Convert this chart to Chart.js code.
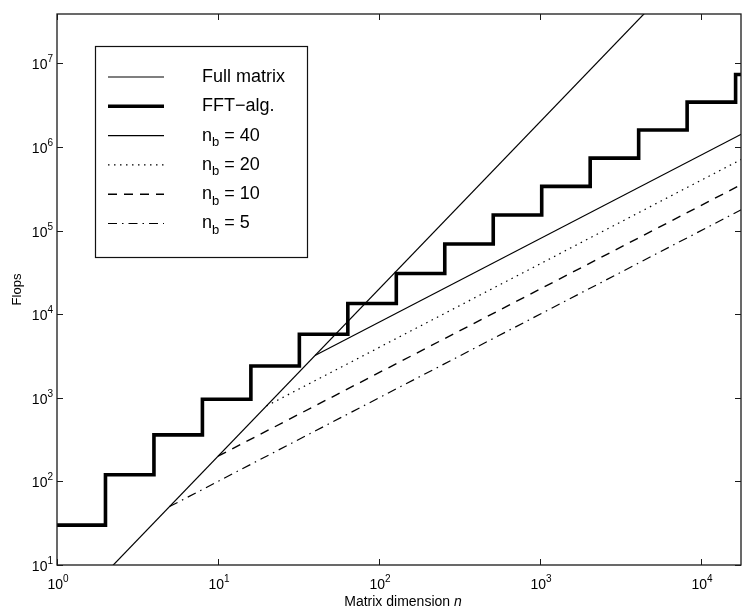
<!DOCTYPE html>
<html lang="en">
<head>
<meta charset="UTF-8">
<title>Flops versus matrix dimension</title>
<script src="https://cdn.jsdelivr.net/npm/chart.js"></script>
<style>
    html, body { margin: 0; padding: 0; background: #fff; }
    canvas { display: block; }
</style>
</head>
<body>
<canvas id="flopsChart" width="742" height="607"></canvas>
<script>
// values (log-log axes)
const xTicks = [1, 10, 100, 1000, 10000];
const yTicks = [10, 100, 1000, 1e4, 1e5, 1e6, 1e7];
const xMin = 1, xMax = 17700;
const yMin = 10, yMax = 3.9e7;

const fullN = [1, 20000];
const fullFlops = [2, 8e8];

const fftN = [1, 2, 4, 8, 16, 32, 64, 128, 256, 512, 1024, 2048, 4096, 8192, 16384, 20000];
const fftFlops = [30, 120, 360, 960, 2400, 5760, 13440, 30700, 69100, 153600, 338000, 737000, 1600000, 3440000, 7370000, 7370000];

const nb40N = [40, 20000];
const nb40Flops = [3200, 1.6e6];
const nb20N = [20, 20000];
const nb20Flops = [800, 8e5];
const nb10N = [10, 20000];
const nb10Flops = [200, 4e5];
const nb5N = [5, 20000];
const nb5Flops = [50, 2e5];

const FONT = '"Liberation Sans", Arial, Helvetica, sans-serif';

function pts(xs, ys) {
    return xs.map((v, i) => ({ x: v, y: ys[i] }));
}

// text like "n_b = 40" -> n with subscript b
function drawSubText(ctx, text, x, y, size) {
    const m = text.match(/^(.*?)_(\w)(.*)$/);
    ctx.font = size + 'px ' + FONT;
    if (!m) { ctx.fillText(text, x, y); return; }
    ctx.fillText(m[1], x, y);
    x += ctx.measureText(m[1]).width;
    ctx.font = Math.round(size * 0.72) + 'px ' + FONT;
    ctx.fillText(m[2], x, y + size * 0.38);
    x += ctx.measureText(m[2]).width;
    ctx.font = size + 'px ' + FONT;
    ctx.fillText(m[3], x, y);
}

function drawPow(ctx, v, x, y, align) {
    const e = String(Math.round(Math.log10(v)));
    ctx.font = '14px ' + FONT;
    const wb = ctx.measureText('10').width;
    ctx.font = '10px ' + FONT;
    const we = ctx.measureText(e).width;
    let sx = align === 'right' ? x - wb - we : x - (wb + we) / 2;
    ctx.textAlign = 'left';
    ctx.font = '14px ' + FONT;
    ctx.fillText('10', sx, y);
    ctx.font = '10px ' + FONT;
    ctx.fillText(e, sx + wb, y - 7);
}

const frame = {
    id: 'frame',
    afterDraw(chart) {
        const { ctx, chartArea: a, scales: { x, y } } = chart;
        ctx.save();
        ctx.fillStyle = '#000';
        ctx.strokeStyle = '#1a1a1a';

        // box + inward ticks
        ctx.lineWidth = 1.3;
        ctx.strokeRect(a.left, a.top, a.right - a.left, a.bottom - a.top);
        const tl = 6;
        ctx.beginPath();
        xTicks.forEach(v => {
            const px = Math.round(x.getPixelForValue(v)) + 0.5;
            ctx.moveTo(px, a.bottom); ctx.lineTo(px, a.bottom - tl);
            ctx.moveTo(px, a.top); ctx.lineTo(px, a.top + tl);
        });
        yTicks.forEach(v => {
            const py = Math.round(y.getPixelForValue(v)) + 0.5;
            ctx.moveTo(a.left, py); ctx.lineTo(a.left + tl, py);
            ctx.moveTo(a.right, py); ctx.lineTo(a.right - tl, py);
        });
        ctx.lineWidth = 1;
        ctx.stroke();

        // tick labels
        ctx.textBaseline = 'alphabetic';
        xTicks.forEach(v => drawPow(ctx, v, x.getPixelForValue(v) + 1, a.bottom + 24, 'center'));
        yTicks.forEach(v => drawPow(ctx, v, a.left - 4, y.getPixelForValue(v) + 6, 'right'));

        // axis titles
        ctx.font = '13px ' + FONT;
        ctx.save();
        ctx.translate(17, (a.top + a.bottom) / 2);
        ctx.rotate(-Math.PI / 2);
        ctx.textAlign = 'center';
        ctx.textBaseline = 'middle';
        ctx.fillText('Flops', 0, 0);
        ctx.restore();

        ctx.textBaseline = 'alphabetic';
        ctx.textAlign = 'left';
        ctx.font = '14px ' + FONT;
        const t1 = 'Matrix dimension ';
        const w1 = ctx.measureText(t1).width;
        ctx.font = 'italic 14px ' + FONT;
        const w2 = ctx.measureText('n').width;
        const tx = 403 - (w1 + w2) / 2;
        ctx.font = '14px ' + FONT;
        ctx.fillText(t1, tx, 606);
        ctx.font = 'italic 14px ' + FONT;
        ctx.fillText('n', tx + w1, 606);

        // legend box
        const lx = 95, ly = 46, lw = 212, lh = 211;
        ctx.fillStyle = '#fff';
        ctx.fillRect(lx, ly, lw, lh);
        ctx.lineWidth = 1.2;
        ctx.strokeStyle = '#111';
        ctx.strokeRect(lx + 0.5, ly + 0.5, lw, lh);
        ctx.fillStyle = '#000';
        ctx.textBaseline = 'middle';
        chart.data.datasets.forEach((ds, i) => {
            const ry = 77 + i * 29.3;
            ctx.beginPath();
            ctx.setLineDash(ds.borderDash || []);
            ctx.lineWidth = ds.borderWidth;
            ctx.strokeStyle = ds.borderColor;
            ctx.moveTo(108, ry); ctx.lineTo(164, ry);
            ctx.stroke();
            ctx.setLineDash([]);
            drawSubText(ctx, ds.label, 202, ry, 18);
        });
        ctx.restore();
    }
};

const ctx = document.getElementById('flopsChart').getContext('2d');
new Chart(ctx, {
    type: 'line',
    data: {
        datasets: [
            { label: 'Full matrix', data: pts(fullN, fullFlops), borderColor: '#000', borderWidth: 1.2 },
            { label: 'FFT\u2212alg.', data: pts(fftN, fftFlops), borderColor: '#000', borderWidth: 3.6, stepped: true },
            { label: 'n_b = 40', data: pts(nb40N, nb40Flops), borderColor: '#000', borderWidth: 1.2 },
            { label: 'n_b = 20', data: pts(nb20N, nb20Flops), borderColor: '#000', borderWidth: 1.2, borderDash: [1.5, 4.5] },
            { label: 'n_b = 10', data: pts(nb10N, nb10Flops), borderColor: '#000', borderWidth: 1.4, borderDash: [9, 7] },
            { label: 'n_b = 5', data: pts(nb5N, nb5Flops), borderColor: '#000', borderWidth: 1.2, borderDash: [9, 5, 1.5, 5] }
        ]
    },
    options: {
        responsive: false,
        animation: false,
        layout: { padding: { top: 14, right: 1, left: 0, bottom: 0 } },
        elements: { point: { radius: 0 }, line: { tension: 0 } },
        plugins: {
            legend: { display: false },
            tooltip: { enabled: false }
        },
        scales: {
            x: {
                type: 'logarithmic',
                min: xMin,
                max: xMax,
                grid: { display: false },
                border: { display: false },
                ticks: { display: false },
                afterFit: s => { s.height = 42; }
            },
            y: {
                type: 'logarithmic',
                min: yMin,
                max: yMax,
                grid: { display: false },
                border: { display: false },
                ticks: { display: false },
                afterFit: s => { s.width = 57; }
            }
        }
    },
    plugins: [frame]
});
</script>
</body>
</html>
